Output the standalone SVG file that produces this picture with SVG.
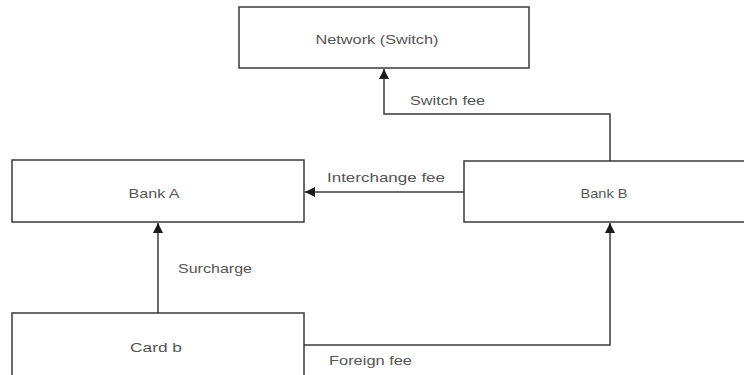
<svg xmlns="http://www.w3.org/2000/svg" width="744" height="375" viewBox="0 0 744 375">
<style>
.box{fill:#fff;stroke:#3a3a3a;stroke-width:1.5}
.t{font-family:"Liberation Sans",Arial,sans-serif;font-size:13px;fill:#555}
.c{text-anchor:middle}
.ln{fill:none;stroke:#3a3a3a;stroke-width:1.5}
</style>
<defs>
<marker id="ah" viewBox="0 0 10 10" refX="10" refY="5" markerWidth="11" markerHeight="10" markerUnits="userSpaceOnUse" orient="auto">
<path d="M0,0 L10,5 L0,10 Z" fill="#1a1a1a"/>
</marker>
</defs>
<rect width="744" height="375" fill="#fff"/>
<g id="network">
<rect class="box" x="239" y="7" width="290" height="61"/>
<text class="t c" x="377" y="44" textLength="123" lengthAdjust="spacingAndGlyphs">Network (Switch)</text>
</g>
<g id="bankA">
<rect class="box" x="12" y="160" width="292" height="62"/>
<text class="t c" x="154" y="198" textLength="51" lengthAdjust="spacingAndGlyphs">Bank A</text>
</g>
<g id="bankB">
<rect class="box" x="464" y="161" width="290" height="61"/>
<text class="t c" x="604" y="198" textLength="47" lengthAdjust="spacingAndGlyphs">Bank B</text>
</g>
<g id="cardb">
<rect class="box" x="12" y="313" width="292" height="70"/>
<text class="t c" x="156" y="352" textLength="52" lengthAdjust="spacingAndGlyphs">Card b</text>
</g>
<g id="connectors">
<path class="ln" d="M610,161 V114 H384 V69" marker-end="url(#ah)"/>
<text class="t" x="410" y="105" textLength="75" lengthAdjust="spacingAndGlyphs">Switch fee</text>
<path class="ln" d="M464,192 H305" marker-end="url(#ah)"/>
<text class="t" x="327" y="182" textLength="118" lengthAdjust="spacingAndGlyphs">Interchange fee</text>
<path class="ln" d="M158,313 V223" marker-end="url(#ah)"/>
<text class="t" x="178" y="273" textLength="74" lengthAdjust="spacingAndGlyphs">Surcharge</text>
<path class="ln" d="M304,345 H610 V223" marker-end="url(#ah)"/>
<text class="t" x="329" y="365" textLength="83" lengthAdjust="spacingAndGlyphs">Foreign fee</text>
</g>
</svg>
